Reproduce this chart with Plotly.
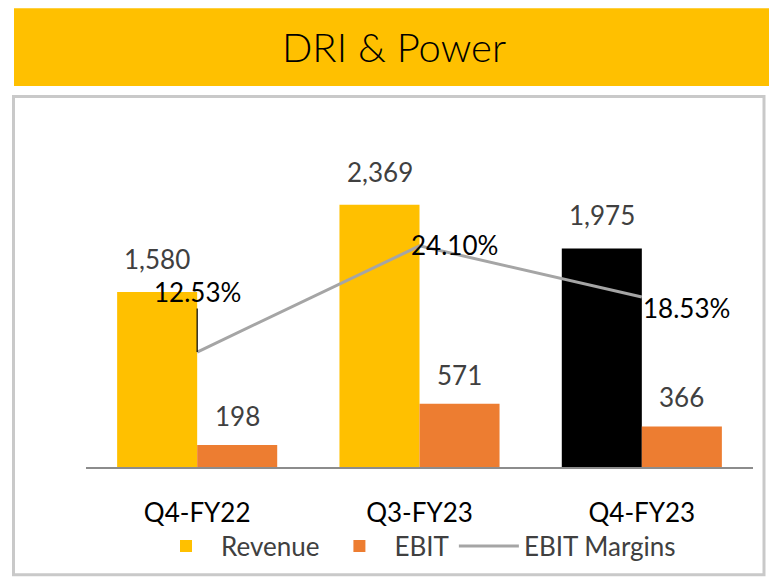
import plotly.graph_objects as go

# ---- data ----
categories = ["Q4-FY22", "Q3-FY23", "Q4-FY23"]
revenue = [1580, 2369, 1975]
ebit = [198, 571, 366]
ebit_margin = [12.53, 24.10, 18.53]
revenue_labels = ["1,580", "2,369", "1,975"]
ebit_labels = ["198", "571", "366"]
margin_labels = ["12.53%", "24.10%", "18.53%"]
revenue_colors = ["#FFC000", "#FFC000", "#000000"]

W, H = 769, 580
L, R, T, B = 86, 16, 110, 112   # plot area margins (px)
PW, PH = W - L - R, H - T - B


def px_x(px):
    return (px - L) / PW


def px_y(py):
    return (H - B - py) / PH


FONT = "Lato, 'Open Sans', sans-serif"

fig = go.Figure()
fig.add_trace(go.Bar(x=categories, y=revenue, name="Revenue",
                     marker=dict(color=revenue_colors, line=dict(width=0))))
fig.add_trace(go.Bar(x=categories, y=ebit, name="EBIT",
                     marker=dict(color="#ED7D31", line=dict(width=0))))
fig.add_trace(go.Scatter(x=categories, y=ebit_margin, name="EBIT Margins",
                         mode="lines", yaxis="y2",
                         line=dict(color="#A5A5A5", width=3)))

ann = []
for c, v, t in zip(categories, revenue, revenue_labels):
    ann.append(dict(x=c, y=v, xref="x", yref="y", text=t, showarrow=False,
                    xshift=-40, yshift=33, yanchor="middle", borderpad=0,
                    font=dict(size=26, color="#404040", family=FONT)))
for c, v, t in zip(categories, ebit, ebit_labels):
    ann.append(dict(x=c, y=v, xref="x", yref="y", text=t, showarrow=False,
                    xshift=40, yshift=29, yanchor="middle", borderpad=0,
                    font=dict(size=26, color="#404040", family=FONT)))
# margin labels
ann.append(dict(x=categories[0], y=ebit_margin[0], xref="x", yref="y2",
                text=margin_labels[0], showarrow=True, arrowhead=0,
                arrowwidth=1.2, arrowcolor="#000000", ax=0, ay=-60, borderpad=0,
                font=dict(size=26, color="#000000", family=FONT)))
ann.append(dict(x=categories[1], y=ebit_margin[1], xref="x", yref="y2",
                text=margin_labels[1], showarrow=False, xshift=35, yshift=1,
                yanchor="middle", borderpad=0,
                font=dict(size=26, color="#000000", family=FONT)))
ann.append(dict(x=categories[2], y=ebit_margin[2], xref="x", yref="y2",
                text=margin_labels[2], showarrow=False, xshift=45, yshift=-11,
                yanchor="middle", borderpad=0,
                font=dict(size=26, color="#000000", family=FONT)))

shapes = [
    # title banner
    dict(type="rect", xref="paper", yref="paper", layer="below",
         x0=px_x(14), x1=px_x(769), y0=px_y(86), y1=px_y(8),
         fillcolor="#FFC000", line=dict(width=0)),
    # chart border
    dict(type="rect", xref="paper", yref="paper", layer="below",
         x0=px_x(13.5), x1=px_x(764), y0=px_y(576), y1=px_y(96.5),
         fillcolor="rgba(0,0,0,0)", line=dict(color="#C9C9C9", width=3)),
]

fig.update_layout(
    width=W, height=H,
    margin=dict(l=L, r=R, t=T, b=B),
    paper_bgcolor="white", plot_bgcolor="white",
    barmode="group", bargap=0.28, bargroupgap=0,
    title=dict(text="DRI & Power", x=394 / W, y=1 - 48 / H,
               xanchor="center", yanchor="middle", xref="container", yref="container",
               font=dict(size=40, color="#000000", family=FONT, weight=300)),
    xaxis=dict(showgrid=False, showline=True, linecolor="#8C8C8C", linewidth=2,
               ticks="", ticklabelstandoff=22,
               tickfont=dict(size=26, color="#000000", family=FONT)),
    yaxis=dict(range=[0, PH / 0.111], visible=False, showgrid=False),
    yaxis2=dict(range=[0, PH / 9.2], visible=False, showgrid=False,
                overlaying="y", side="right"),
    legend=dict(orientation="h", x=px_x(416), xanchor="center",
                y=px_y(546), yanchor="middle", bgcolor="rgba(0,0,0,0)",
                font=dict(size=26, color="#404040", family=FONT),
                itemwidth=60, traceorder="normal"),
    annotations=ann,
    shapes=shapes,
    showlegend=True,
)

fig.write_html("out.html",
               config={"displayModeBar": False},
               post_script="document.body.style.margin='0';"
                           "document.body.style.overflow='hidden';")
